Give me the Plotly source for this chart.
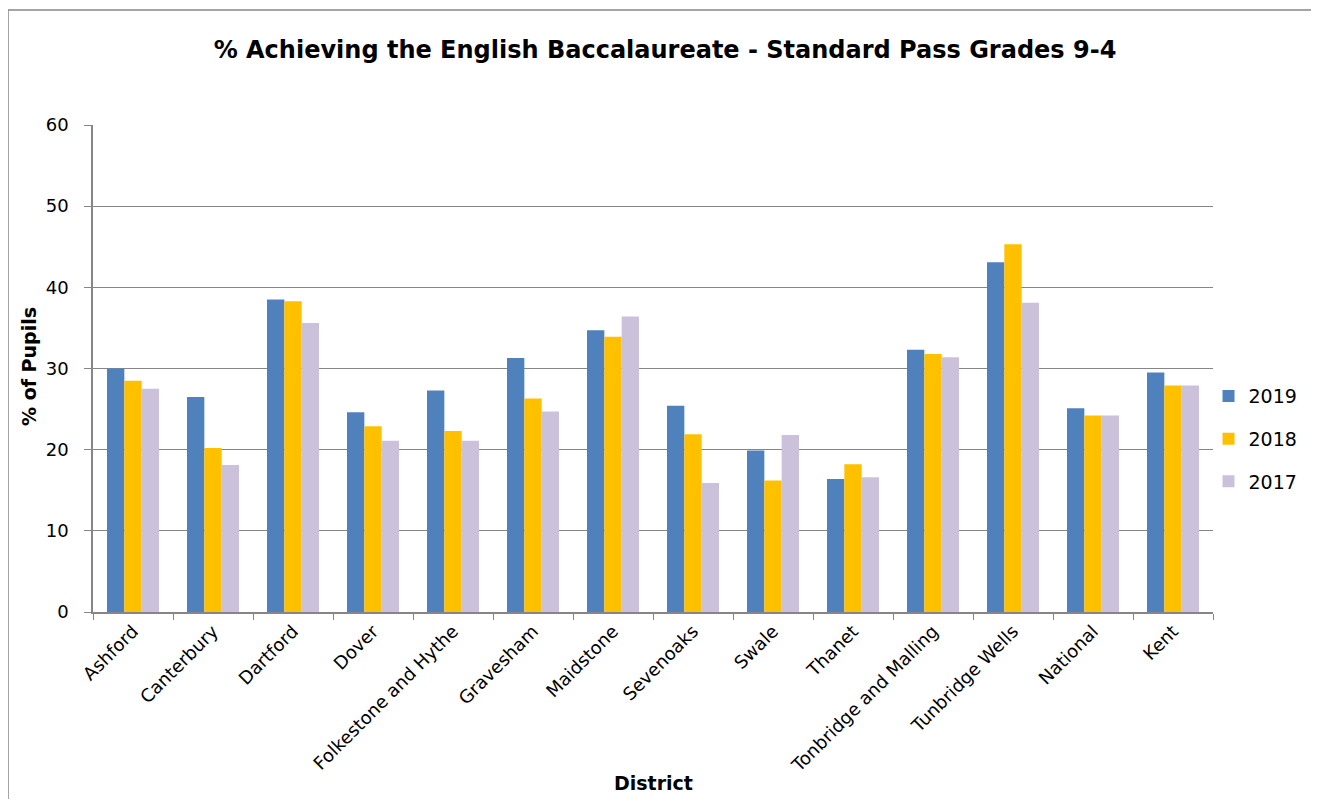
import plotly.graph_objects as go

districts = ["Ashford", "Canterbury", "Dartford", "Dover", "Folkestone and Hythe",
             "Gravesham", "Maidstone", "Sevenoaks", "Swale", "Thanet",
             "Tonbridge and Malling", "Tunbridge Wells", "National", "Kent"]

pct_2019 = [30.0, 26.5, 38.5, 24.6, 27.3, 31.3, 34.7, 25.4, 19.9, 16.4, 32.3, 43.1, 25.1, 29.5]
pct_2018 = [28.5, 20.2, 38.3, 22.9, 22.3, 26.3, 33.9, 21.9, 16.2, 18.2, 31.8, 45.3, 24.2, 27.9]
pct_2017 = [27.5, 18.1, 35.6, 21.1, 21.1, 24.7, 36.4, 15.9, 21.8, 16.6, 31.4, 38.1, 24.2, 27.9]

font_name = "DejaVu Sans"
grid_col = "#868686"

# page body has an 8px margin, so figure is sized to fit inside it
W, H = 1303, 791
L, R, T, B = 85, 98, 117, 187
pw, ph = W - L - R, H - T - B

fig = go.Figure()
for name, vals, col in [("2019", pct_2019, "#4F81BD"),
                        ("2018", pct_2018, "#FFC000"),
                        ("2017", pct_2017, "#CCC1DA")]:
    fig.add_trace(go.Bar(
        x=districts,
        y=vals,
        name=name,
        legendgroup=name,
        marker=dict(color=col, line=dict(width=0)),
    ))

fig.update_layout(
    width=W,
    height=H,
    margin=dict(l=L, r=R, t=T, b=B, autoexpand=False),
    paper_bgcolor="white",
    plot_bgcolor="white",
    barmode="group",
    bargap=0.35,
    bargroupgap=0,
    font=dict(family=font_name, size=18, color="black"),
    title=dict(
        text="<b>% Achieving the English Baccalaureate - Standard Pass Grades 9-4</b>",
        x=(665 - 93) / pw, xanchor="center", xref="paper",
        y=1 - 42 / H, yanchor="middle",
        font=dict(family=font_name, size=24, color="black"),
    ),
    legend=dict(
        x=0.996, y=0.355, xanchor="left", yanchor="middle",
        font=dict(size=19),
        tracegroupgap=15,
        bgcolor="rgba(0,0,0,0)",
    ),
    showlegend=True,
)

fig.update_xaxes(
    tickangle=-45,
    tickson="boundaries",
    ticks="outside",
    ticklen=6,
    tickcolor=grid_col,
    showline=True,
    linecolor=grid_col,
    linewidth=1.5,
    showgrid=False,
    automargin=False,
    tickfont=dict(size=18),
)
fig.update_yaxes(
    range=[0, 60],
    dtick=10,
    ticks="outside",
    ticklen=7,
    tickcolor=grid_col,
    ticklabelstandoff=12,
    showline=True,
    linecolor=grid_col,
    linewidth=1.5,
    showgrid=True,
    gridcolor=grid_col,
    gridwidth=1,
    zeroline=False,
    automargin=False,
    tickfont=dict(size=18),
)

# axis titles
fig.add_annotation(text="<b>District</b>", xref="paper", yref="paper",
                   x=0.5, y=-(775 - T - ph) / ph, xanchor="center", yanchor="middle",
                   showarrow=False, font=dict(size=19))
fig.add_annotation(text="<b>% of Pupils</b>", xref="paper", yref="paper",
                   x=-(L - 21) / pw, y=(T + ph - 359) / ph, xanchor="center", yanchor="middle",
                   textangle=-90, showarrow=False, font=dict(size=19))

# outer chart border
fig.add_shape(type="rect", xref="paper", yref="paper",
              x0=-L / pw, x1=1.3,
              y0=-0.6, y1=(ph + T - 2) / ph,
              line=dict(color=grid_col, width=1.5), fillcolor="rgba(0,0,0,0)",
              layer="below")

fig.write_html("out.html")
